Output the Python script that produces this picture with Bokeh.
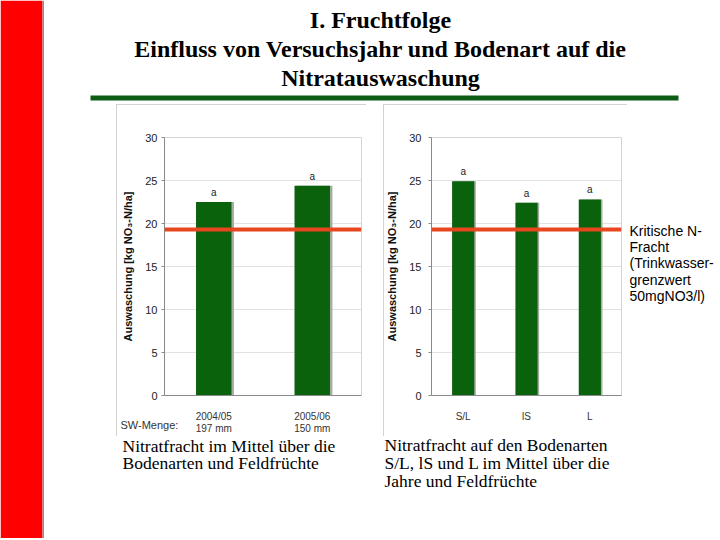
from bokeh.plotting import figure
from bokeh.models import Range1d, FactorRange, Span, Title, ColumnDataSource, Spacer, FixedTicker
from bokeh.layouts import row, column
from bokeh.transform import dodge
from bokeh.core.properties import value
from bokeh.embed import file_html
from bokeh.resources import INLINE

# ---------------- data ----------------
title_lines = ["I. Fruchtfolge",
               "Einfluss von Versuchsjahr und Bodenart auf die",
               "Nitratauswaschung"]
years = ["2004/05\n197 mm", "2005/06\n150 mm"]
year_values = [22.5, 24.4]
year_letters = ["a", "a"]
soils = ["S/L", "lS", "L"]
soil_values = [24.9, 22.4, 22.8]
soil_letters = ["a", "a", "a"]
critical_load = 19.3
y_ticks = [0, 5, 10, 15, 20, 25, 30]
y_label = "Auswaschung [kg NO\u2083-N/ha]"
sw_label = "SW-Menge:"
note_lines = ["Kritische N-", "Fracht", "(Trinkwasser-", "grenzwert", "50mgNO3/l)"]
caption_left = ["Nitratfracht im Mittel \u00fcber die", "Bodenarten und Feldfr\u00fcchte"]
caption_right = ["Nitratfracht auf den Bodenarten",
                 "S/L, lS und L im Mittel \u00fcber die",
                 "Jahre und Feldfr\u00fcchte"]

# ---------------- styles ----------------
SANS = "Liberation Sans"
SERIF = "Liberation Serif"
BAR_GREEN = "#0b620d"
LINE_RED = "#e8461e"
RULE_GREEN = "#0c5c14"
PANEL_STYLE = {"outline": "1px solid #c4c4c4", "outline-offset": "-1px"}
SERIF_DESC = 0.216   # descent of Liberation Serif (em)
SANS_DESC = 0.212    # descent of Liberation Sans (em)


def canvas(w, h, x0=0, y0=0, **kw):
    p = figure(width=w, height=h, x_range=Range1d(x0, x0 + w), y_range=Range1d(y0 + h, y0),
               output_backend="svg", toolbar_location=None, min_border=0,
               x_axis_location=None, y_axis_location=None, **kw)
    p.grid.visible = False
    p.outline_line_color = None
    return p


def bar_chart(factors, values, letters, w, h, bl, br, bt, bb,
              label_standoff, axis_label_standoff, bar_width):
    p = figure(width=w, height=h, x_range=FactorRange(*factors), y_range=Range1d(0, 30),
               output_backend="svg", toolbar_location=None,
               min_border_left=bl, min_border_right=br, min_border_top=bt, min_border_bottom=bb,
               styles=PANEL_STYLE)
    src = ColumnDataSource(dict(cat=factors, val=values, letter=letters))
    p.vbar(x=dodge("cat", 0.025, range=p.x_range), top="val", width=bar_width, source=src,
           fill_color="#a3ada3", line_color=None)
    p.vbar(x="cat", top="val", width=bar_width, source=src, fill_color=BAR_GREEN, line_color=None)
    p.text(x="cat", y="val", text="letter", source=src, y_offset=-4,
           text_align="center", text_baseline="bottom",
           text_font=value(SANS), text_font_size="10px", text_color="#222222")
    p.add_layout(Span(location=critical_load, dimension="width", line_color=LINE_RED, line_width=4))

    p.yaxis.ticker = FixedTicker(ticks=y_ticks)
    p.yaxis.axis_label = y_label
    p.yaxis.axis_label_text_font = SANS
    p.yaxis.axis_label_text_font_size = "11px"
    p.yaxis.axis_label_text_font_style = "bold"
    p.yaxis.axis_label_text_color = "#111111"
    p.yaxis.axis_label_standoff = axis_label_standoff
    p.yaxis.major_label_text_font = SANS
    p.yaxis.major_label_text_font_size = "11px"
    p.yaxis.major_label_text_color = "#222222"
    p.yaxis.major_label_standoff = label_standoff
    p.yaxis.major_tick_in = 0
    p.yaxis.major_tick_out = 3
    p.yaxis.minor_tick_line_color = None
    p.yaxis.axis_line_color = "#8a8a8a"
    p.yaxis.major_tick_line_color = "#8a8a8a"

    p.xaxis.major_label_text_font = SANS
    p.xaxis.major_label_text_font_size = "10px"
    p.xaxis.major_label_text_line_height = 1.1
    p.xaxis.major_label_text_color = "#333333"
    p.xaxis.major_label_standoff = 9
    p.xaxis.major_tick_line_color = None
    p.xaxis.axis_line_color = "#8a8a8a"

    p.xgrid.grid_line_color = None
    p.ygrid.grid_line_color = "#e2e2e2"
    p.outline_line_color = "#d4d4d4"
    return p


TOTAL_H = 538

# ---------------- left red bar ----------------
redbar = canvas(44, TOTAL_H)
redbar.quad(left=[0], right=[42], top=[0], bottom=[TOTAL_H], fill_color="#ff0000", line_color=None)
redbar.quad(left=[42], right=[44], top=[0], bottom=[TOTAL_H], fill_color="#a58683", line_color=None)

# ---------------- title (screen coordinates) ----------------
title = canvas(674, 104, x0=44, y0=0)
T_SIZE = 24
title.text(x=[380] * 3, y=[b + SERIF_DESC * T_SIZE for b in (27, 56, 85)], text=title_lines,
           text_align="center", text_baseline="bottom",
           text_font=value(SERIF), text_font_size=f"{T_SIZE}px", text_font_style="bold",
           text_color="#000000")
title.quad(left=[90], right=[678], top=[95], bottom=[100], fill_color=RULE_GREEN, line_color=None)

# ---------------- charts ----------------
chart1 = bar_chart(years, year_values, year_letters, 250, 332,
                   bl=48, br=5, bt=33, bb=39, label_standoff=4, axis_label_standoff=8,
                   bar_width=0.36)
chart1.add_layout(Title(text=sw_label, align="left", offset=-44, standoff=-36,
                        vertical_align="top", text_font=SANS, text_font_size="11px",
                        text_font_style="normal", text_color="#333333"), "below")

chart2 = bar_chart(soils, soil_values, soil_letters, 244, 332,
                   bl=45, br=6, bt=33, bb=39, label_standoff=7, axis_label_standoff=8,
                   bar_width=0.35)

# note to the right of chart 2: its frame is aligned with the chart frames (y 137..397)
note = canvas(91, 332, x0=627, y0=104, min_border_top=33, min_border_bottom=39)
note.y_range = Range1d(397, 137)
N_SIZE = 14
note.text(x=[629] * len(note_lines),
          y=[b + SANS_DESC * N_SIZE for b in (236.5, 252.8, 269.0, 285.3, 301.6)],
          text=note_lines, text_align="left", text_baseline="bottom",
          text_font=value(SANS), text_font_size=f"{N_SIZE}px", text_color="#000000")

middle = row(Spacer(width=72, height=332), chart1, Spacer(width=17, height=332), chart2, note,
             spacing=0)

# ---------------- captions (screen coordinates) ----------------
captions = canvas(674, TOTAL_H - 436, x0=44, y0=436)
C_SIZE = 17.5
captions.text(x=[122] * len(caption_left), y=[b + SERIF_DESC * C_SIZE for b in (452, 469)],
              text=caption_left, text_align="left", text_baseline="bottom",
              text_font=value(SERIF), text_font_size=f"{C_SIZE}px", text_color="#000000")
captions.text(x=[384] * len(caption_right), y=[b + SERIF_DESC * C_SIZE for b in (451, 469, 487)],
              text=caption_right, text_align="left", text_baseline="bottom",
              text_font=value(SERIF), text_font_size=f"{C_SIZE}px", text_color="#000000")

layout = row(redbar, column(title, middle, captions, spacing=0), spacing=0)

open("out.html", "w").write(file_html(layout, INLINE))
